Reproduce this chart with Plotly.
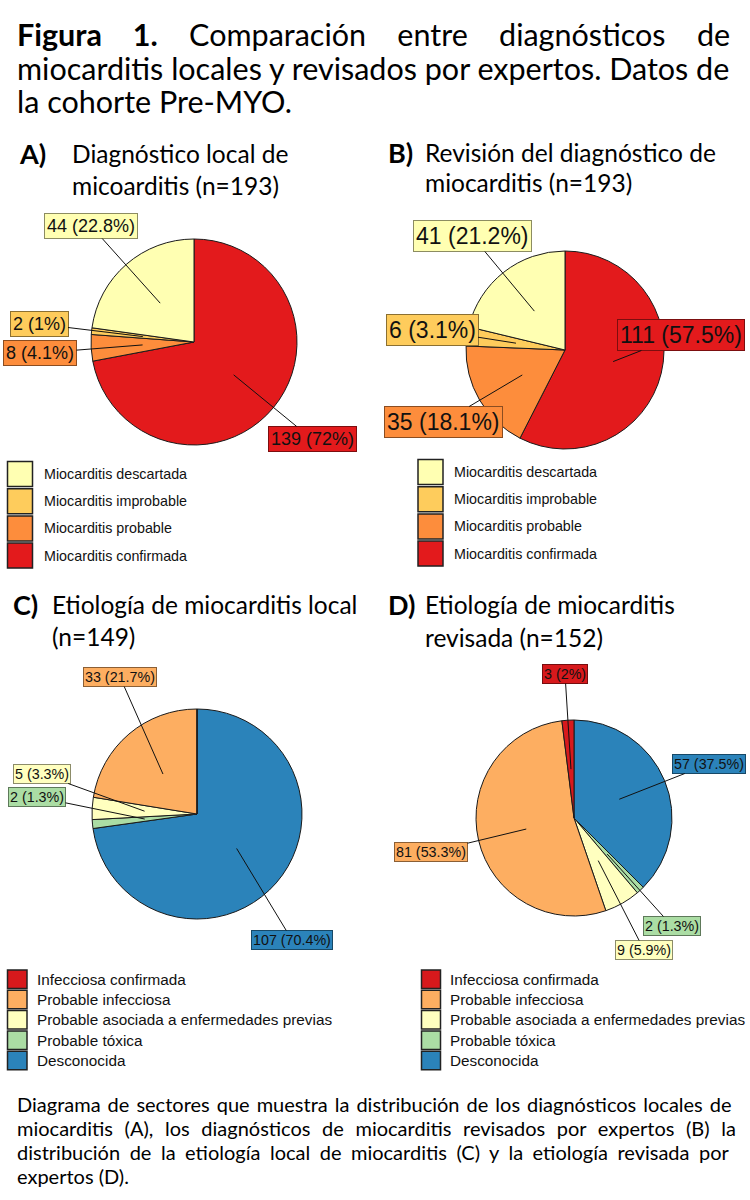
import math
import plotly.graph_objects as go

W, H = 750, 1200

# ---------------- DATA ----------------
diag_cats = ["Miocarditis descartada", "Miocarditis improbable",
             "Miocarditis probable", "Miocarditis confirmada"]
diag_local_n = [44, 2, 8, 139]
diag_local_pct = [22.8, 1, 4.1, 72]
diag_rev_n = [41, 6, 35, 111]
diag_rev_pct = [21.2, 3.1, 18.1, 57.5]

etio_cats = ["Infecciosa confirmada", "Probable infecciosa",
             "Probable asociada a enfermedades previas", "Probable tóxica",
             "Desconocida"]
etio_local_n = [0, 33, 5, 2, 107]
etio_local_pct = [0, 21.7, 3.3, 1.3, 70.4]
etio_rev_n = [3, 81, 9, 2, 57]
etio_rev_pct = [2, 53.3, 5.9, 1.3, 37.5]

# ---------------- STYLE ----------------
diag_colors = ["#FFFFB2", "#FECC5C", "#FD8D3C", "#E31A1C"]
etio_colors = ["#D7191C", "#FDAE61", "#FFFFBF", "#ABDDA4", "#2B83BA"]
ARIAL = "Liberation Sans, Arial, sans-serif"
CALIBRI = "Lato, Carlito, Calibri, sans-serif"


def darker(hexc, f=0.55):
    h = hexc.lstrip("#")
    r, g, b = (int(h[i:i + 2], 16) for i in (0, 2, 4))
    return "#%02x%02x%02x" % (int(r * f), int(g * f), int(b * f))


def X(px):
    return px / W


def Y(py):
    return 1 - py / H


# panel geometry (centre x, centre y, radius in px), label box centres in px
panels = [
    dict(n=diag_local_n, pct=diag_local_pct, cats=diag_cats, colors=diag_colors,
         cx=194, cy=342, r=103, fs=18, bp=2,
         lab=[(91, 226), (39, 324), (40, 353), (312, 439)]),
    dict(n=diag_rev_n, pct=diag_rev_pct, cats=diag_cats, colors=diag_colors,
         cx=565, cy=350, r=99, fs=23, bp=2,
         lab=[(472, 236), (432, 330), (443, 422), (681, 335)]),
    dict(n=etio_local_n, pct=etio_local_pct, cats=etio_cats, colors=etio_colors,
         cx=197, cy=814, r=105, fs=14.3, bp=1,
         lab=[None, (120, 677), (42, 774), (37, 797), (292, 940)]),
    dict(n=etio_rev_n, pct=etio_rev_pct, cats=etio_cats, colors=etio_colors,
         cx=574, cy=818, r=98, fs=14.3, bp=1,
         lab=[(565, 674), (431, 852), (644, 950), (672, 926), (709, 764)]),
]

fig = go.Figure()
annotations = []
shapes = []

for p in panels:
    cx, cy, r = p["cx"], p["cy"], p["r"]
    # drawn clockwise from 12 o'clock in reverse legend order
    fig.add_trace(go.Pie(
        labels=p["cats"][::-1], values=p["n"][::-1], sort=False,
        direction="clockwise", rotation=0,
        marker=dict(colors=p["colors"][::-1], line=dict(color="#1a1a1a", width=1)),
        textinfo="none", hoverinfo="label+value", showlegend=False,
        domain=dict(x=[X(cx - r), X(cx + r)], y=[Y(cy + r), Y(cy - r)]),
    ))
    total = sum(p["n"])
    cum = 0
    for i, v in enumerate(p["n"]):
        mid = (cum + v / 2) / total
        cum += v
        if v == 0 or p["lab"][i] is None:
            continue
        th = 2 * math.pi * mid  # counter-clockwise from 12 o'clock
        ptx = cx - 0.5 * r * math.sin(th)
        pty = cy - 0.5 * r * math.cos(th)
        lx, ly = p["lab"][i]
        annotations.append(dict(
            x=X(ptx), y=Y(pty), xref="paper", yref="paper",
            text=f"{v} ({p['pct'][i]:g}%)", showarrow=True, arrowhead=0,
            arrowwidth=1, arrowcolor="#111", ax=lx - ptx, ay=ly - pty,
            standoff=0, startstandoff=0,
            font=dict(family=ARIAL, size=p["fs"], color="#111"),
            bgcolor=p["colors"][i], bordercolor=darker(p["colors"][i]),
            borderwidth=1, borderpad=p["bp"]))

# ---------------- LEGENDS ----------------
legends = [
    dict(cats=diag_cats, colors=diag_colors, x0=7.5, w=25, top=461.5, h=25, step=27.2, tx=42, fs=14.3),
    dict(cats=diag_cats, colors=diag_colors, x0=418, w=25, top=459.5, h=25, step=27.2, tx=452, fs=14.3),
    dict(cats=etio_cats, colors=etio_colors, x0=7.5, w=19.5, top=970, h=18.5, step=20.3, tx=34.5, fs=15.3),
    dict(cats=etio_cats, colors=etio_colors, x0=421.5, w=19, top=970, h=18.5, step=20.3, tx=448, fs=15.3),
]
for lg in legends:
    for i, (c, col) in enumerate(zip(lg["cats"], lg["colors"])):
        t = lg["top"] + i * lg["step"]
        shapes.append(dict(type="rect", xref="paper", yref="paper",
                           x0=X(lg["x0"]), x1=X(lg["x0"] + lg["w"]),
                           y0=Y(t + lg["h"]), y1=Y(t),
                           fillcolor=col, line=dict(color="#222", width=1.5)))
        annotations.append(dict(x=X(lg["tx"]), y=Y(t + lg["h"] / 2), xref="paper", yref="paper",
                                text=c, showarrow=False, xanchor="left", yanchor="middle",
                                font=dict(family=ARIAL, size=lg["fs"], color="#111")))


def txt(x, y, s, size, bold=False, anchor="left", wsp=0):
    if bold:
        s = f"<b>{s}</b>"
    if wsp:
        s = f'<span style="word-spacing:{wsp}px">{s}</span>'
    annotations.append(dict(x=X(x), y=Y(y), xref="paper", yref="paper",
                            text=s, showarrow=False,
                            xanchor=anchor, yanchor="middle",
                            font=dict(family=CALIBRI, size=size, color="black")))


# ---------------- MAIN TITLE ----------------
TS = 30.5
txt(15, 34, "<b>Figura 1.</b> Comparación entre diagnósticos de", TS, wsp=23.5)
txt(15, 68, "miocarditis locales y revisados por expertos. Datos de", TS)
txt(15, 101, "la cohorte Pre-MYO.", TS)

# ---------------- PANEL TITLES ----------------
PS = 24.5
LS = 27
txt(17, 154, "A)", LS, bold=True)
txt(70, 154, "Diagnóstico local de", PS)
txt(70, 185, "micoarditis (n=193)", PS)
txt(386, 153, "B)", LS, bold=True)
txt(423, 153, "Revisión del diagnóstico de", PS)
txt(423, 183, "miocarditis (n=193)", PS)
txt(11, 604, "C)", LS, bold=True)
txt(50, 604, "Etiología de miocarditis local", PS)
txt(50, 636, "(n=149)", PS)
txt(386, 604, "D)", LS, bold=True)
txt(423, 604, "Etiología de miocarditis", PS)
txt(423, 637, "revisada (n=152)", PS)

# ---------------- CAPTION (justified) ----------------
CS = 20
cap = ["Diagrama de sectores que muestra la distribución de los diagnósticos locales de",
       "miocarditis (A), los diagnósticos de miocarditis revisados por expertos (B) la",
       "distribución de la etiología local de miocarditis (C) y la etiología revisada por",
       "expertos (D)."]
cap_wsp = [1.9, 6.5, 4.4, 0]
for k, line in enumerate(cap):
    txt(15, 1104 + 24 * k, line, CS, wsp=cap_wsp[k])

fig.update_layout(width=W, height=H, margin=dict(l=0, r=0, t=0, b=0),
                  paper_bgcolor="white", plot_bgcolor="white",
                  annotations=annotations, shapes=shapes)
fig.write_html("out.html", config={"displayModeBar": False},
               post_script="document.body.style.margin='0';document.body.style.padding='0';")
